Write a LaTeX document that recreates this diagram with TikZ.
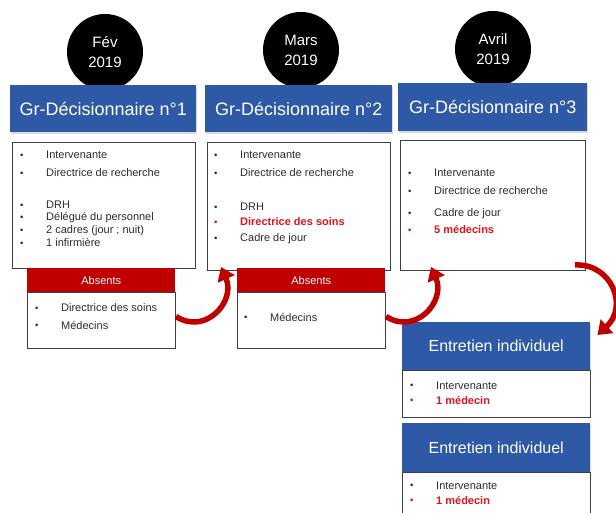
\documentclass[tikz,border=0pt]{standalone}
\usepackage{fontspec}
\setmainfont{Liberation Sans}
\usetikzlibrary{calc,arrows.meta,shadows}
\definecolor{hblue}{RGB}{46,89,166}
\definecolor{dred}{RGB}{192,0,0}
\definecolor{tred}{RGB}{225,20,30}
\definecolor{bord}{RGB}{64,64,64}
\definecolor{txt}{RGB}{45,45,45}
\tikzset{
 hdr/.style={fill=hblue, text=white, font=\fontsize{18}{20}\selectfont, anchor=north west, inner sep=0pt,
   drop shadow={opacity=0.3, shadow xshift=1pt, shadow yshift=-1.5pt}},
 cbox/.style={draw=bord, line width=1pt, fill=white, anchor=north west, inner sep=0pt},
 rhdr/.style={fill=dred, text=white, font=\fontsize{11}{13}\selectfont, anchor=north west, inner sep=0pt},
 month/.style={circle, fill=black, text=white, minimum size=76pt, inner sep=0pt, align=center, font=\fontsize{15}{20}\selectfont},
 itm/.style={anchor=base west, inner sep=0pt, font=\fontsize{11}{13}\selectfont, text=txt},
 ritm/.style={anchor=base west, inner sep=0pt, text=tred, font=\fontsize{11}{13}\selectfont\bfseries},
 curv/.style={draw=dred, line width=5.5pt, -{Triangle[length=13pt,width=18pt]}},
}
\newcommand\bul{\makebox[26pt][l]{\raisebox{0.3pt}{\fontsize{9.5}{9.5}\selectfont\textbullet}}}
\begin{document}
\begin{tikzpicture}[x=1pt,y=-1pt]
\useasboundingbox (0,0) rectangle (616,513);
% month circles
\node[month] (m1) at (105,52) {Fév\\2019};
\node[month] (m2) at (301,50) {Mars\\2019};
\node[month] (m3) at (493,49) {Avril\\2019};
% headers
\node[hdr, minimum width=186pt, minimum height=47pt] (h1) at (10,85) {Gr-Décisionnaire n°1};
\node[hdr, minimum width=187pt, minimum height=47pt] (h2) at (205,85) {Gr-Décisionnaire n°2};
\node[hdr, minimum width=189pt, minimum height=48pt] (h3) at (398,83) {Gr-Décisionnaire n°3};
% content boxes
\node[cbox, minimum width=183pt, minimum height=126pt] (c1) at (12,142) {};
\node[cbox, minimum width=183pt, minimum height=128pt] (c2) at (207,142) {};
\node[cbox, minimum width=185pt, minimum height=130pt] (c3) at (400,140) {};
% box 1 items
\node[itm] (c1a) at (20,159) {\bul Intervenante};
\node[itm] (c1b) at (20,177) {\bul Directrice de recherche};
\node[itm] (c1c) at (20,209) {\bul DRH};
\node[itm] (c1d) at (20,221) {\bul Délégué du personnel};
\node[itm] (c1e) at (20,234) {\bul 2 cadres (jour ; nuit)};
\node[itm] (c1f) at (20,247) {\bul 1 infirmière};
% box 2 items
\node[itm] (c2a) at (214,159) {\bul Intervenante};
\node[itm] (c2b) at (214,177) {\bul Directrice de recherche};
\node[itm] (c2c) at (214,211) {\bul DRH};
\node[ritm] (c2d) at (214,226) {\bul Directrice des soins};
\node[itm] (c2e) at (214,242) {\bul Cadre de jour};
% box 3 items
\node[itm] (c3a) at (408,177) {\bul Intervenante};
\node[itm] (c3b) at (408,195) {\bul Directrice de recherche};
\node[itm] (c3c) at (408,217) {\bul Cadre de jour};
\node[ritm] (c3d) at (408,234) {\bul 5 médecins};
% absents
\node[rhdr, minimum width=148pt, minimum height=24pt] (ah1) at (27,268) {Absents};
\node[cbox, minimum width=148pt, minimum height=56pt] (ab1) at (27,292) {};
\node[itm] (ab1a) at (35,312) {\bul Directrice des soins};
\node[itm] (ab1b) at (35,329) {\bul Médecins};
\node[rhdr, minimum width=148pt, minimum height=24pt] (ah2) at (237,268) {Absents};
\node[cbox, minimum width=148pt, minimum height=56pt] (ab2) at (237,292) {};
\node[itm] (ab2a) at (244,321) {\bul Médecins};
% entretiens
\node[hdr, font=\fontsize{16}{19}\selectfont, minimum width=188pt, minimum height=48pt] (e1) at (402,322) {Entretien individuel};
\node[cbox, minimum width=188pt, minimum height=47pt] (eb1) at (402,370) {};
\node[itm] (eb1a) at (410,389) {\bul Intervenante};
\node[ritm] (eb1b) at (410,404) {\bul 1 médecin};
\node[hdr, font=\fontsize{16}{19}\selectfont, minimum width=188pt, minimum height=49pt] (e2) at (402,423) {Entretien individuel};
\node[cbox, minimum width=188pt, minimum height=50pt] (eb2) at (402,472) {};
\node[itm] (eb2a) at (410,489) {\bul Intervenante};
\node[ritm] (eb2b) at (410,504) {\bul 1 médecin};
% curved arrows
\draw[curv] ($(ab1.east)+(0,-4)$) .. controls ($(ab1.east)+(30,15)$) and ($(c2.south west)+(29,30)$) .. ($(c2.south west)+(14,-4)$);
\draw[curv] ($(ab2.east)+(0,-4)$) .. controls ($(ab2.east)+(30,15)$) and ($(c3.south west)+(46,30)$) .. ($(c3.south west)+(31,-4)$);
\draw[curv] ($(c3.south east)+(-11,-6)$) .. controls ($(c3.south east)+(25,-8)$) and ($(c3.south east)+(43,35)$) .. ($(e1.north east)+(7,13)$);
\end{tikzpicture}
\end{document}
